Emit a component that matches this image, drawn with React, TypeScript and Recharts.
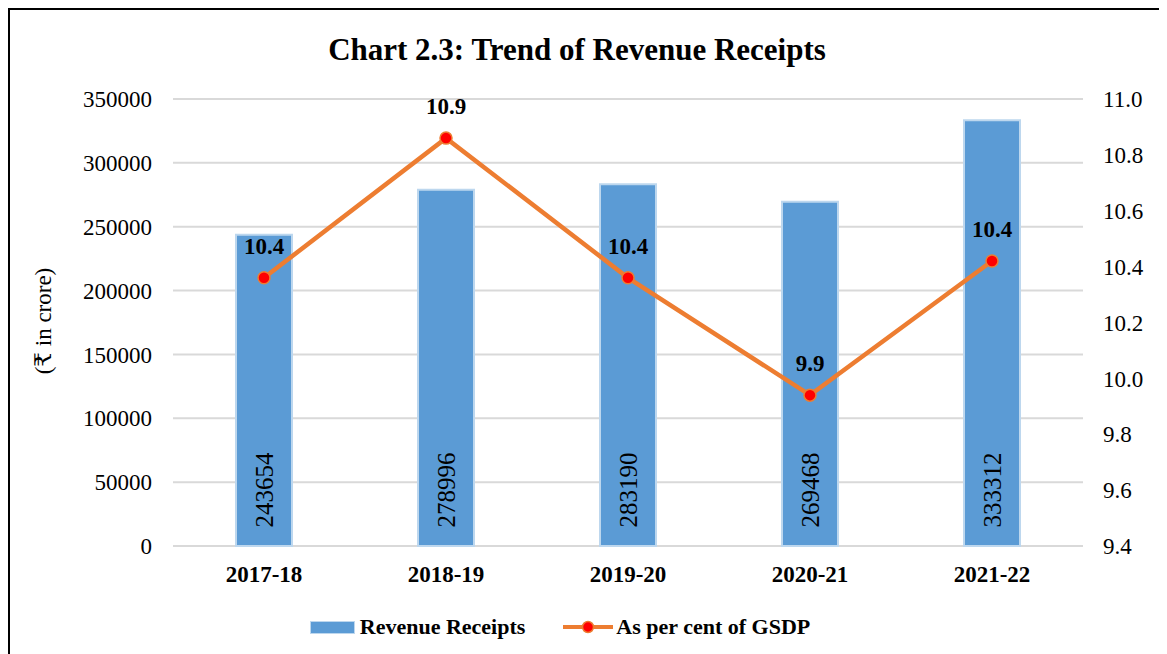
import { ComposedChart, Bar, Line, XAxis, YAxis, CartesianGrid, LabelList } from "recharts";

const years = ["2017-18", "2018-19", "2019-20", "2020-21", "2021-22"];
const receipts = [243654, 278996, 283190, 269468, 333312];
const pctGsdp = [10.36, 10.86, 10.36, 9.94, 10.42];
const leftTicks = [0, 50000, 100000, 150000, 200000, 250000, 300000, 350000];
const rightTicks = [9.4, 9.6, 9.8, 10.0, 10.2, 10.4, 10.6, 10.8, 11.0];

const data = years.map((y, i) => ({ year: y, receipts: receipts[i], pct: pctGsdp[i] }));

const FONT = '"Liberation Serif", "Times New Roman", "DejaVu Serif", serif';
const BAR_FILL = "#5B9BD5";
const BAR_EDGE = "#BDD7EE";
const LINE_C = "#ED7D31";
const GRID_C = "#D9D9D9";

// vertical value label, centred in the lower part of the bar
function BarValue(props: any) {
  const { x, y, width, height, value } = props;
  const cx = Number(x) + Number(width) / 2;
  const cy = Number(y) + Number(height) - 56;
  return (
    <text
      x={cx} y={cy}
      transform={`rotate(-90, ${cx}, ${cy})`}
      textAnchor="middle" dominantBaseline="central"
      fontFamily={FONT} fontSize={25} fill="#000"
    >
      {value}
    </text>
  );
}

function Legendish() {
  return (
    <div style={{
      position: "absolute", left: 0, width: 1100, top: 604, display: "flex",
      justifyContent: "center", alignItems: "center", gap: 38,
      fontFamily: FONT, fontWeight: "bold", fontSize: 22, color: "#000",
    }}>
      <div style={{ display: "flex", alignItems: "center" }}>
        <span style={{ display: "inline-block", width: 43, height: 11, background: BAR_FILL, border: `1px solid ${BAR_EDGE}`, marginRight: 5 }} />
        Revenue Receipts
      </div>
      <div style={{ display: "flex", alignItems: "center" }}>
        <svg width={50} height={14} style={{ marginRight: 3 }}>
          <line x1={0} y1={7} x2={50} y2={7} stroke={LINE_C} strokeWidth={4} />
          <circle cx={25} cy={7} r={5.5} fill="#FF0000" stroke={LINE_C} strokeWidth={1.5} />
        </svg>
        As per cent of GSDP
      </div>
    </div>
  );
}

export default function App() {
  return (
    <div style={{
      position: "relative", width: 1152, height: 660, border: "2px solid #000",
      background: "#fff", fontFamily: FONT,
    }}>
      <div style={{
        position: "absolute", left: 0, width: 1134, top: 22, textAlign: "center",
        fontWeight: "bold", fontSize: 31, color: "#000",
      }}>
        Chart 2.3: Trend of Revenue Receipts
      </div>
      <div style={{
        position: "absolute", left: 34 - 70, top: 311 - 12, width: 140, textAlign: "center",
        transform: "rotate(-90deg)", fontSize: 23, color: "#000", lineHeight: "24px",
      }}>
        (₹ in crore)
      </div>
      <ComposedChart
        width={1152} height={600} data={data}
        margin={{ top: 89, right: 0, bottom: 0, left: 0 }}
      >
        <CartesianGrid yAxisId="left" vertical={false} stroke={GRID_C} strokeWidth={2} />
        <XAxis
          dataKey="year" height={64} axisLine={false} tickLine={false} tickSize={0} tickMargin={20}
          tick={{ fontSize: 23, fontWeight: "bold", fill: "#000", fontFamily: FONT }}
        />
        <YAxis
          yAxisId="left" orientation="left" width={163} domain={[0, 350000]} ticks={leftTicks}
          axisLine={false} tickLine={false} tickSize={0} tickMargin={21}
          tick={{ fontSize: 23, fill: "#000", fontFamily: FONT }}
        />
        <YAxis
          yAxisId="right" orientation="right" width={79} domain={[9.4, 11.0]} ticks={rightTicks}
          axisLine={false} tickLine={false} tickSize={0} tickMargin={20}
          tickFormatter={(v: number) => v.toFixed(1)}
          tick={{ fontSize: 23, fill: "#000", fontFamily: FONT, textAnchor: "start" }}
        />
        <Bar
          yAxisId="left" dataKey="receipts" name="Revenue Receipts" barSize={56}
          fill={BAR_FILL} stroke={BAR_EDGE} strokeWidth={2} isAnimationActive={false}
        >
          <LabelList dataKey="receipts" content={BarValue} />
        </Bar>
        <Line
          yAxisId="right" dataKey="pct" name="As per cent of GSDP" stroke={LINE_C} strokeWidth={4.5}
          dot={{ r: 6, fill: "#FF0000", stroke: LINE_C, strokeWidth: 1.5 }} activeDot={false}
          isAnimationActive={false}
        >
          <LabelList
            dataKey="pct" position="top" offset={24}
            formatter={(v: any) => Number(v).toFixed(1)}
            style={{ fontSize: 23, fontWeight: "bold", fill: "#000", fontFamily: FONT }}
          />
        </Line>
      </ComposedChart>
      <Legendish />
    </div>
  );
}
